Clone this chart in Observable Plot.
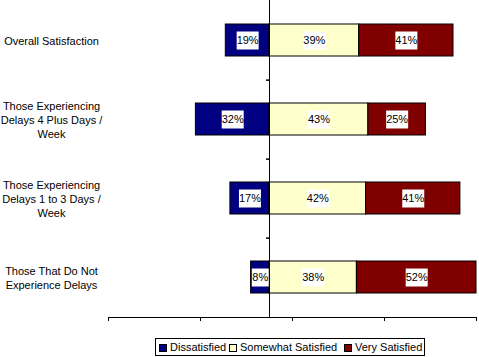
<!DOCTYPE html>
<html>
<head>
<meta charset="utf-8">
<script src="https://cdn.jsdelivr.net/npm/d3@7"></script>
<script src="https://cdn.jsdelivr.net/npm/@observablehq/plot@0.6"></script>
<style>
  body { margin: 0; background: #fff; font-family: "Liberation Sans", Arial, sans-serif; }
  #chart { position: relative; width: 479px; height: 357px; overflow: hidden; }
  #chart svg { position: absolute; left: 0; top: 0; }
  .legend { position: absolute; left: 155px; top: 338px; width: 268px; height: 16px; border: 1px solid #000; background: #fff; font-size: 11px; }
  .legend .item { position: absolute; top: 0; height: 16px; line-height: 16px; white-space: nowrap; }
  .legend .sw { display: inline-block; width: 6px; height: 6px; border: 1px solid #000; margin-right: 3px; vertical-align: -1px; }
</style>
</head>
<body>
<div id="chart"></div>
<script>
const categories = [
  "Overall Satisfaction",
  "Those Experiencing\nDelays 4 Plus Days /\nWeek",
  "Those Experiencing\nDelays 1 to 3 Days /\nWeek",
  "Those That Do Not\nExperience Delays"
];
const series = ["Dissatisfied", "Somewhat Satisfied", "Very Satisfied"];
const colors = ["#000080", "#FFFFCC", "#800000"];
const dissatisfied = [19, 32, 17, 8];
const somewhatSatisfied = [39, 43, 42, 38];
const verySatisfied = [41, 25, 41, 52];
const xTicks = [-70, -30, 10, 50, 90];

const data = [];
categories.forEach((c, i) => {
  data.push({cat: c, series: series[0], v: -dissatisfied[i]});
  data.push({cat: c, series: series[1], v: somewhatSatisfied[i]});
  data.push({cat: c, series: series[2], v: verySatisfied[i]});
});

const box = (w, h) => ({draw(ctx) { ctx.rect(-w / 2, -h / 2, w, h); }});
const hTick = {draw(ctx) { ctx.moveTo(-3.5, 0); ctx.lineTo(0, 0); }};

const H = 330, MT = 0, MB = 13;
const step = (H - MT - MB) / categories.length;

const chart = Plot.plot({
  width: 479,
  height: H,
  marginLeft: 108,
  marginRight: 3,
  marginTop: MT,
  marginBottom: MB,
  style: {fontFamily: "Liberation Sans, Arial, sans-serif", fontSize: "11px", color: "#000", background: "#fff"},
  x: {domain: [-70, 90], label: null},
  y: {domain: categories, paddingInner: 0.6, paddingOuter: 0.3, axis: null, label: null},
  color: {domain: series, range: colors},
  marks: [
    Plot.barX(data, Plot.stackX({x: "v", y: "cat", fill: "series", stroke: "#000", strokeWidth: 1})),
    Plot.ruleX([0], {stroke: "#000", strokeWidth: 1}),
    Plot.dot(categories.slice(0, categories.length - 1), {x: () => 0, y: d => d, dy: step / 2, symbol: hTick, stroke: "#000", fill: "none", r: 1}),
    Plot.dot(data, Plot.stackX({x: "v", y: "cat", filter: d => Math.abs(d.v) >= 10, symbol: box(22, 18), fill: "#fff", stroke: "none", r: 1})),
    Plot.dot(data, Plot.stackX({x: "v", y: "cat", filter: d => Math.abs(d.v) < 10, symbol: box(17, 18), fill: "#fff", stroke: "none", r: 1})),
    Plot.text(data, Plot.stackX({x: "v", y: "cat", text: d => Math.abs(d.v) + "%", fill: "#000", fontSize: 11})),
    Plot.text(categories, {frameAnchor: "left", y: d => d, text: d => d, dx: -57, textAnchor: "middle", lineHeight: 1.27, fontSize: 11, fill: "#000"}),
    Plot.frame({anchor: "bottom", stroke: "#000"}),
    Plot.axisX({ticks: xTicks, tickFormat: () => "", tickSize: 4, anchor: "bottom", stroke: "#000", label: null})
  ]
});

const root = document.getElementById("chart");
root.appendChild(chart);

const legend = document.createElement("div");
legend.className = "legend";
const offsets = [3, 73, 188];
series.forEach((s, i) => {
  const item = document.createElement("div");
  item.className = "item";
  item.style.left = offsets[i] + "px";
  const sw = document.createElement("span");
  sw.className = "sw";
  sw.style.background = colors[i];
  item.appendChild(sw);
  item.appendChild(document.createTextNode(s));
  legend.appendChild(item);
});
root.appendChild(legend);
</script>
</body>
</html>
